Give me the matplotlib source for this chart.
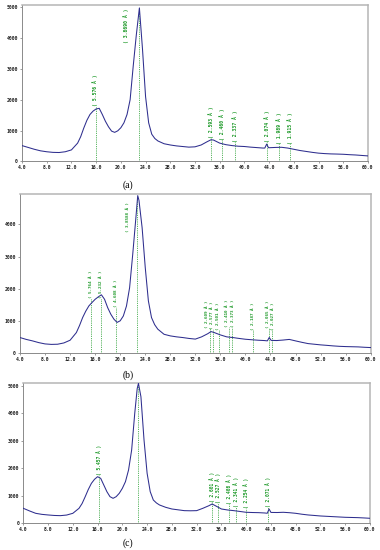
import matplotlib
matplotlib.use("Agg")
import matplotlib.pyplot as plt
import numpy as np

# ---------------- data ----------------
x_ticks = [4, 8, 12, 16, 20, 24, 28, 32, 36, 40, 44, 48, 52, 56, 60]
x_tick_labels = ["4.0", "8.0", "12.0", "16.0", "20.0", "24.0", "28.0", "32.0",
                 "36.0", "40.0", "44.0", "48.0", "52.0", "56.0", "60.0"]

# panel (a)
tt_a = [4, 5, 6, 7, 8, 9, 10, 11, 12, 13, 13.5, 14, 14.5, 15, 15.5, 16, 16.5, 17, 17.5,
        18, 18.5, 19, 19.5, 20, 20.5, 21, 21.5, 22, 22.5, 23, 23.5, 24, 24.5, 25, 25.5,
        26, 27, 28, 29, 30, 31, 32, 33, 34, 34.6, 35, 36, 37, 38, 39, 40, 41, 42, 43,
        43.3, 43.6, 43.9, 45, 46, 47, 48, 49, 50, 51, 52, 53, 54, 55, 56, 57, 58, 59, 60]
int_a = [510, 450, 390, 340, 310, 290, 285, 310, 370, 590, 800, 1080, 1330, 1520, 1630,
         1700, 1720, 1520, 1300, 1120, 980, 940, 990, 1090, 1250, 1520, 2000, 3090, 4100,
         4980, 3650, 2100, 1250, 880, 740, 660, 570, 530, 500, 480, 460, 470, 530, 640,
         700, 690, 590, 540, 510, 490, 480, 460, 445, 430, 430, 560, 440, 450, 455, 430,
         390, 350, 320, 290, 265, 250, 240, 235, 228, 215, 205, 190, 175]
line_a = [15.9, 23.0, 34.6, 36.45, 38.5, 43.6, 45.55, 47.45]
labx_a = [15.9, 20.9, 34.6, 36.45, 38.5, 43.6, 45.55, 47.45]
d_a = ["5.576", "3.8690", "2.593", "2.460", "2.337", "2.074", "1.989", "1.915"]
base_a = [1790, 3840, 760, 690, 625, 625, 560, 560]
top_a = [1790, 4980, 760, 690, 625, 625, 560, 560]

# panel (b)
tt_b = [4, 5, 6, 7, 8, 9, 10, 11, 12, 13, 13.5, 14, 14.5, 15, 15.5, 16, 16.5, 17, 17.5,
        18, 18.5, 19, 19.5, 20, 20.5, 21, 21.5, 22, 22.5, 22.8, 23, 23.5, 24, 24.5, 25,
        25.5, 26, 27, 28, 29, 30, 31, 32, 33, 34, 34.5, 35, 36, 37, 38, 39, 40, 41, 42,
        43, 43.5, 43.8, 44.1, 45, 46, 47, 48, 49, 50, 51, 52, 53, 54, 55, 56, 57, 58, 59, 60]
int_b = [478, 420, 374, 320, 280, 265, 270, 310, 395, 633, 850, 1100, 1300, 1464, 1570,
         1670, 1745, 1810, 1670, 1410, 1205, 1050, 950, 1000, 1150, 1460, 2030, 3070,
         4200, 4900, 4750, 3900, 2660, 1620, 1100, 880, 740, 580, 530, 500, 478, 450, 430,
         500, 600, 665, 635, 560, 500, 478, 450, 425, 410, 395, 385, 375, 480, 390, 385,
         400, 420, 374, 330, 290, 270, 250, 235, 218, 205, 197, 192, 187, 175, 166]
line_b = [15.35, 16.9, 19.25, 22.75, 34.35, 34.8, 35.85, 37.3, 37.9, 41.25, 43.75, 44.3]
labx_b = [15.35, 16.9, 19.25, 21.2, 33.8, 34.7, 35.6, 37.1, 38.0, 41.2, 43.5, 44.4]
d_b = ["5.764", "5.232", "4.608", "3.8588", "2.609", "2.577", "2.501", "2.410", "2.373",
       "2.187", "2.065", "2.027"]
base_b = [1710, 1710, 1430, 3770, 780, 745, 715, 805, 805, 715, 775, 715]
top_b = [1710, 1710, 1430, 4900, 780, 745, 715, 805, 805, 715, 775, 715]

# panel (c)
tt_c = [4, 5, 6, 7, 8, 9, 10, 11, 12, 13, 13.5, 14, 14.5, 15, 15.5, 16, 16.5, 17, 17.5,
        18, 18.5, 19, 19.5, 20, 20.5, 21, 21.5, 22, 22.4, 22.6, 23, 23.5, 24, 24.5, 25,
        25.5, 26, 27, 28, 29, 30, 31, 32, 33, 34, 34.5, 35, 36, 37, 38, 39, 40, 41, 42,
        43, 43.4, 43.7, 44.0, 45, 46, 47, 48, 49, 50, 51, 52, 53, 54, 55, 56, 57, 58, 59, 60]
int_c = [545, 450, 363, 325, 303, 285, 278, 300, 363, 545, 720, 968, 1230, 1452, 1598,
         1694, 1634, 1392, 1150, 968, 908, 968, 1090, 1271, 1513, 1937, 2663, 3995, 4900,
         5085, 4600, 3027, 1816, 1150, 847, 740, 666, 581, 520, 490, 460, 455, 460, 545,
         642, 702, 642, 520, 484, 460, 430, 400, 392, 387, 375, 365, 520, 395, 392, 400,
         385, 363, 330, 303, 285, 266, 254, 242, 230, 218, 212, 206, 195, 182]
line_c = [16.2, 22.6, 34.45, 35.5, 37.3, 38.4, 40.0, 43.6]
labx_c = [16.2, None, 34.45, 35.5, 37.3, 38.4, 40.0, 43.6]
d_c = ["5.457", None, "2.601", "2.527", "2.408", "2.341", "2.254", "2.071"]
base_c = [1760, 5085, 785, 727, 700, 605, 545, 605]
top_c = [1760, 5085, 785, 727, 700, 605, 545, 605]

# ---------------- layout / style ----------------
W, H = 380, 550
fig = plt.figure(figsize=(W / 100, H / 100), dpi=100)
fig.patch.set_facecolor("white")

CURVE = "#2e2e8e"
GREEN = "#1f9a2a"
MONO = "DejaVu Sans Mono"


def px_axes(l, t, r, b):
    return fig.add_axes([l / W, 1 - b / H, (r - l) / W, (b - t) / H])


panels = [
    dict(rect=(22, 5, 368, 161.3), ymax=5075, yt=[0, 1000, 2000, 3000, 4000, 5000],
         tt=tt_a, iy=int_a, line=line_a, labx=labx_a, d=d_a, base=base_a, top=top_a,
         cap="(a)", capy=185, fs=3.5),
    dict(rect=(20, 194, 370.7, 352.9), ymax=4950, yt=[0, 1000, 2000, 3000, 4000],
         tt=tt_b, iy=int_b, line=line_b, labx=labx_b, d=d_b, base=base_b, top=top_b,
         cap="(b)", capy=375, fs=3.1),
    dict(rect=(23.3, 382.7, 370, 523.3), ymax=5110, yt=[0, 1000, 2000, 3000, 4000, 5000],
         tt=tt_c, iy=int_c, line=line_c, labx=labx_c, d=d_c, base=base_c, top=top_c,
         cap="(c)", capy=543, fs=3.3),
]

for p in panels:
    ax = px_axes(*p["rect"])
    ax.set_xlim(4, 60)
    ax.set_ylim(0, p["ymax"])
    # dotted green marker lines
    for lx, tp in zip(p["line"], p["top"]):
        ax.plot([lx, lx], [0, tp], color=GREEN, lw=0.6, ls=(0, (1, 1.2)), zorder=2)
    ax.plot(p["tt"], p["iy"], color=CURVE, lw=0.75, zorder=3)
    for lx, dv, bs in zip(p["labx"], p["d"], p["base"]):
        if dv is None:
            continue
        ax.text(lx, bs, "( " + dv + " Å )", rotation=90, ha="center", va="bottom",
                color=GREEN, fontsize=p["fs"], family=MONO, fontweight="bold", zorder=4)
    ax.set_xticks(x_ticks)
    ax.set_xticklabels(x_tick_labels)
    ax.set_yticks(p["yt"])
    ax.set_yticklabels([str(v) for v in p["yt"]])
    for lab in ax.get_xticklabels() + ax.get_yticklabels():
        lab.set_family(MONO)
        lab.set_fontweight("bold")
        lab.set_fontsize(3.4)
        lab.set_color("#222222")
    ax.tick_params(axis="both", length=1.5, width=0.5, color="#777777", pad=1.5)
    for side in ["left", "bottom"]:
        ax.spines[side].set_color("#8a8a8a")
        ax.spines[side].set_linewidth(0.7)
    for side in ["top", "right"]:
        ax.spines[side].set_color("#b5b5b5")
        ax.spines[side].set_linewidth(1.1)
    fig.text(128 / W, 1 - p["capy"] / H, p["cap"], ha="center", va="center",
             family="Liberation Serif", fontsize=7, color="black")

fig.savefig("out.png", dpi=100)
